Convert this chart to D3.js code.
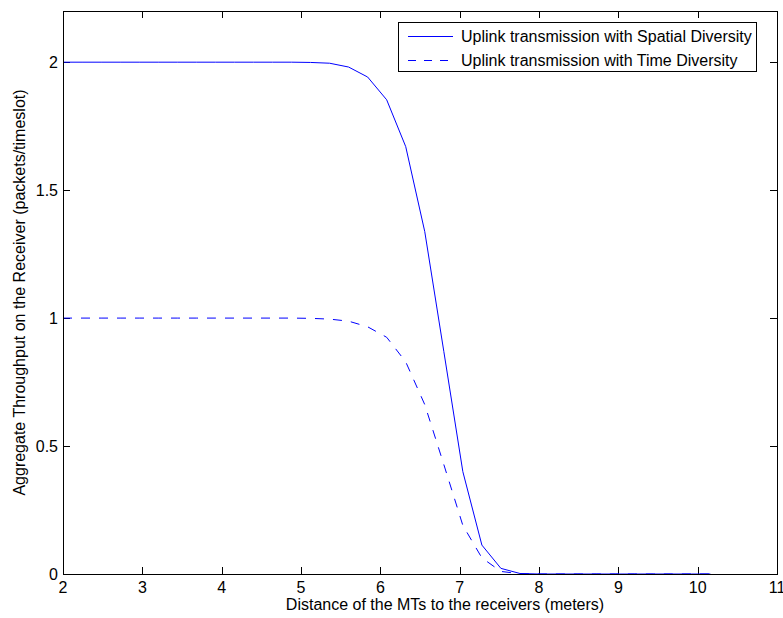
<!DOCTYPE html>
<html>
<head>
<meta charset="utf-8">
<script src="https://cdn.jsdelivr.net/npm/d3@7"></script>
<style>
  body { margin: 0; background: #fff; }
  svg text { font-family: "Liberation Sans", Arial, sans-serif; font-size: 16px; fill: #000; }
</style>
</head>
<body>
<div id="chart"></div>
<script>
// distance of the MTs (meters)
const distance = [2.00, 2.24, 2.48, 2.72, 2.96, 3.20, 3.44, 3.68, 3.92, 4.16, 4.40, 4.64, 4.88,
    5.12, 5.36, 5.60, 5.84, 6.08, 6.32, 6.56, 6.80, 7.04, 7.28, 7.52, 7.76, 8.00, 8.24, 8.48,
    8.72, 8.96, 9.20, 9.44, 9.68, 9.92, 10.16];
// spatial diversity throughput
const spatial = [2, 2, 2, 2, 2, 2, 2, 2, 2, 2, 2, 2, 2,
    1.999, 1.996, 1.981, 1.942, 1.853, 1.670, 1.338, 0.870, 0.400, 0.113, 0.022, 0.002, 0, 0, 0,
    0, 0, 0, 0, 0, 0, 0];
// time diversity throughput
const timeDiv = [1, 1, 1, 1, 1, 1, 1, 1, 1, 1, 1, 1, 1,
    0.999, 0.996, 0.988, 0.966, 0.925, 0.829, 0.662, 0.428, 0.190, 0.063, 0.010, 0.001, 0, 0, 0,
    0, 0, 0, 0, 0, 0, 0];
const xTicks = [2, 3, 4, 5, 6, 7, 8, 9, 10, 11];
const yTicks = [0, 0.5, 1, 1.5, 2];
const seriesNames = ["Uplink transmission with Spatial Diversity", "Uplink transmission with Time Diversity"];

const width = 783, height = 618;
const margin = { top: 11, right: 6, bottom: 44, left: 63 };

const svg = d3.select("#chart").append("svg")
    .attr("width", width)
    .attr("height", height);

const x = d3.scaleLinear().domain([2, 11]).range([margin.left, width - margin.right]);
const y = d3.scaleLinear().domain([0, 2.2]).range([height - margin.bottom, margin.top]);

const tickLen = 7;
const axes = svg.append("g").attr("stroke", "#000").attr("stroke-width", 1);

// ticks on all four sides, pointing inward
xTicks.forEach(t => {
    const px = Math.round(x(t)) + 0.5;
    axes.append("line").attr("x1", px).attr("x2", px)
        .attr("y1", y(0)).attr("y2", y(0) - tickLen);
    axes.append("line").attr("x1", px).attr("x2", px)
        .attr("y1", y(2.2)).attr("y2", y(2.2) + tickLen);
    svg.append("text").attr("x", x(t)).attr("y", y(0) + 19)
        .attr("text-anchor", "middle").text(t);
});
yTicks.forEach(t => {
    const py = Math.round(y(t)) + 0.5;
    axes.append("line").attr("x1", x(2)).attr("x2", x(2) + tickLen)
        .attr("y1", py).attr("y2", py);
    axes.append("line").attr("x1", x(11)).attr("x2", x(11) - tickLen)
        .attr("y1", py).attr("y2", py);
    svg.append("text").attr("x", x(2) - 5).attr("y", y(t) + 6)
        .attr("text-anchor", "end").text(t);
});

const line = d3.line()
    .x((d, i) => x(distance[i]))
    .y(d => y(d));

svg.append("path").datum(timeDiv)
    .attr("d", line)
    .attr("fill", "none")
    .attr("stroke", "#0000ff")
    .attr("stroke-width", 1)
    .attr("stroke-dasharray", "9,9");

svg.append("path").datum(spatial)
    .attr("d", line)
    .attr("fill", "none")
    .attr("stroke", "#0000ff")
    .attr("stroke-width", 1);

// frame
svg.append("rect")
    .attr("x", x(2) + 0.5).attr("y", y(2.2) + 0.5)
    .attr("width", x(11) - x(2)).attr("height", y(0) - y(2.2))
    .attr("fill", "none").attr("stroke", "#000").attr("stroke-width", 1);

// axis labels
svg.append("text")
    .attr("x", 445).attr("y", 610)
    .attr("text-anchor", "middle")
    .text("Distance of the MTs to the receivers (meters)");
svg.append("text")
    .attr("transform", `translate(25,${(y(0) + y(2.2)) / 2}) rotate(-90)`)
    .attr("text-anchor", "middle")
    .text("Aggregate Throughput on the Receiver (packets/timeslot)");

// legend
const legend = svg.append("g");
legend.append("rect")
    .attr("x", 398.5).attr("y", 22.5).attr("width", 358).attr("height", 49)
    .attr("fill", "#fff").attr("stroke", "#000").attr("stroke-width", 1);
seriesNames.forEach((name, i) => {
    const ly = 36 + i * 24;
    legend.append("line")
        .attr("x1", 408).attr("x2", 453).attr("y1", ly + 0.5).attr("y2", ly + 0.5)
        .attr("stroke", "#0000ff").attr("stroke-width", 1)
        .attr("stroke-dasharray", i === 1 ? "8,8" : null);
    legend.append("text").attr("x", 461).attr("y", ly + 6).text(name);
});
</script>
</body>
</html>
